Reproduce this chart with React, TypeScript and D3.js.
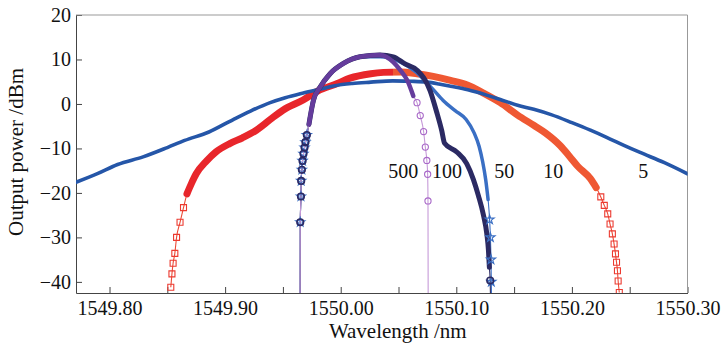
import { useEffect, useRef } from "react";
import * as d3 from "d3";

// Output spectra for several values of the parameter (5, 10, 50, 100, 500).
type Pt = [number, number];

const xMajorTicks = [1549.8, 1549.9, 1550.0, 1550.1, 1550.2, 1550.3];
const xMinorTicks = [1549.85, 1549.95, 1550.05, 1550.15, 1550.25];
const yTicks = [20, 10, 0, -10, -20, -30, -40];

const curve5: Pt[] = [
  [1549.771, -17.6], [1549.79, -15.6], [1549.807, -13.6], [1549.829, -11.9],
  [1549.85, -9.8], [1549.865, -8.2], [1549.886, -6.3], [1549.907, -3.5],
  [1549.922, -1.6], [1549.939, 0.3], [1549.952, 1.4], [1549.965, 2.3],
  [1549.982, 3.3], [1549.995, 4.1], [1550.01, 4.6], [1550.026, 4.9],
  [1550.045, 5.2], [1550.06, 5.1], [1550.075, 4.9], [1550.085, 4.5],
  [1550.095, 4.0], [1550.11, 3.2], [1550.125, 2.1], [1550.138, 1.0],
  [1550.153, -0.3], [1550.167, -1.2], [1550.182, -2.4], [1550.2, -4.2],
  [1550.216, -5.9], [1550.23, -7.5], [1550.245, -9.3], [1550.259, -10.9],
  [1550.28, -13.2], [1550.3, -15.7],
];

const curve10: Pt[] = [
  [1549.853, -41.2], [1549.854, -38.2], [1549.855, -35.8], [1549.8565, -33.6],
  [1549.858, -30.0], [1549.861, -26.6], [1549.864, -23.3], [1549.867, -20.2],
  [1549.871, -17.8], [1549.875, -15.7], [1549.884, -12.8], [1549.892, -10.8],
  [1549.904, -8.9], [1549.915, -7.6], [1549.927, -5.9], [1549.939, -3.5],
  [1549.95, -1.4], [1549.9675, 0.9], [1549.98, 2.9], [1549.997, 4.6],
  [1550.008, 5.8], [1550.026, 6.8], [1550.037, 7.1], [1550.052, 7.2],
  [1550.066, 6.8], [1550.08, 6.2], [1550.095, 5.3], [1550.11, 4.2],
  [1550.123, 2.5], [1550.138, 0.3], [1550.153, -2.5], [1550.167, -4.8],
  [1550.177, -6.5], [1550.19, -9.4], [1550.198, -11.8], [1550.205, -14.0],
  [1550.216, -16.8], [1550.221, -18.8], [1550.225, -20.9], [1550.228, -22.8],
  [1550.231, -24.7], [1550.233, -27.0], [1550.235, -29.2], [1550.2365, -31.5],
  [1550.2377, -33.7], [1550.2386, -35.6], [1550.2394, -37.5], [1550.24, -39.8],
  [1550.241, -42.4],
];

// rising edge shared by the three narrow spectra
const narrowLeft: Pt[] = [
  [1549.965, -26.6], [1549.9656, -20.8], [1549.9658, -17.3], [1549.9664, -14.8],
  [1549.967, -12.8], [1549.9678, -11.2], [1549.9687, -9.8], [1549.9695, -8.6],
  [1549.9707, -7.0], [1549.9725, -4.6], [1549.9764, 0.8], [1549.9822, 3.8],
  [1549.9908, 6.8], [1550.0023, 9.1], [1550.0167, 10.6],
];

const curve50: Pt[] = [
  [1549.9649, -45], ...narrowLeft,
  [1550.034, 10.6], [1550.05, 9.6], [1550.065, 7.2], [1550.0791, 3.5],
  [1550.0886, 0.8], [1550.099, -1.5], [1550.1085, -3.5], [1550.1154, -6.5],
  [1550.1197, -9.5], [1550.1228, -13.0], [1550.1254, -17.0], [1550.1275, -21.5],
  [1550.1288, -26.0], [1550.1295, -30.0], [1550.13, -35.0], [1550.1303, -40.0],
  [1550.1305, -45],
];

const curve100: Pt[] = [
  [1549.9649, -45], ...narrowLeft,
  [1550.034, 11.0], [1550.0455, 10.6], [1550.0557, 9.0], [1550.066, 7.6],
  [1550.0773, 3.0], [1550.083, -1.8], [1550.0874, -6.0], [1550.0898, -8.8],
  [1550.1004, -10.8], [1550.109, -13.4], [1550.1148, -17.0], [1550.1191, -20.6],
  [1550.1235, -25.0], [1550.1264, -29.2], [1550.1278, -32.9], [1550.1286, -36.7],
  [1550.1293, -39.7], [1550.1297, -45],
];

const curve500: Pt[] = [
  [1549.9648, -50], ...narrowLeft,
  [1550.034, 11.0], [1550.0455, 9.4], [1550.0515, 7.6], [1550.0576, 5.3],
  [1550.0628, 1.8], [1550.066, 0.3], [1550.0688, -2.6], [1550.0717, -6.2],
  [1550.0732, -9.7], [1550.0745, -12.7], [1550.0752, -15.8], [1550.0755, -21.8],
  [1550.0757, -50],
];

const curveLabels = [
  { text: "500", x: 1550.054, y: -16.7 },
  { text: "100", x: 1550.092, y: -16.7 },
  { text: "50", x: 1550.1414, y: -16.7 },
  { text: "10", x: 1550.1838, y: -16.7 },
  { text: "5", x: 1550.2617, y: -16.7 },
];

type Style = {
  key: string;
  data: Pt[];
  band: string;
  thin: string;
  mark: string;
  bandWidth: number;
  bandX?: [number, number];
  marker?: d3.SymbolType;
  markerSize?: number;
};

const FONT = "Liberation Serif, DejaVu Serif, serif";

export default function App() {
  const svgRef = useRef<SVGSVGElement | null>(null);

  useEffect(() => {
    const svg = d3.select(svgRef.current);
    svg.selectAll("*").remove();
    if (!svgRef.current) return;

    const x = d3.scaleLinear().domain([1549.771, 1550.3]).range([76, 687.5]);
    const y = d3.scaleLinear().domain([-42.5, 20]).range([293, 15]);
    const [x0, x1] = x.range();
    const [yb, yt] = y.range();

    const defs = svg.append("defs");
    defs
      .append("clipPath")
      .attr("id", "plot")
      .append("rect")
      .attr("x", x0)
      .attr("y", yt)
      .attr("width", x1 - x0)
      .attr("height", yb - yt);

    // red on the short side, orange on the long side
    const split = (x(1550.045) - x(1549.85)) / (x(1550.25) - x(1549.85));
    const grad = defs
      .append("linearGradient")
      .attr("id", "redgrad")
      .attr("gradientUnits", "userSpaceOnUse")
      .attr("x1", x(1549.85))
      .attr("x2", x(1550.25))
      .attr("y1", 0)
      .attr("y2", 0);
    grad.append("stop").attr("offset", 0).attr("stop-color", "#e8262b");
    grad.append("stop").attr("offset", split).attr("stop-color", "#e8262b");
    grad.append("stop").attr("offset", split).attr("stop-color", "#ef5833");
    grad.append("stop").attr("offset", 1).attr("stop-color", "#ef5833");

    // axes (ticks point inward)
    const bottom = svg
      .append("g")
      .attr("transform", `translate(0,${yb})`)
      .call(
        d3
          .axisBottom(x)
          .tickValues([...xMajorTicks, ...xMinorTicks])
          .tickSize(-6)
          .tickSizeOuter(0)
          .tickPadding(8)
          .tickFormat((v) =>
            xMajorTicks.includes(v as number) ? d3.format(".2f")(v as number) : "",
          ),
      );
    const left = svg
      .append("g")
      .attr("transform", `translate(${x0},0)`)
      .call(d3.axisLeft(y).tickValues(yTicks).tickSize(-6).tickSizeOuter(0).tickPadding(5));
    for (const a of [bottom, left]) {
      a.attr("font-family", null).attr("font-size", null);
      a.select(".domain").attr("stroke", "#444");
      a.selectAll(".tick line").attr("stroke", "#444");
      a.selectAll("text")
        .style("font-family", FONT)
        .style("font-size", "20px")
        .attr("fill", "#111");
    }
    svg
      .append("path")
      .attr("d", `M${x0},${yt}H${x1}V${yb}`)
      .attr("fill", "none")
      .attr("stroke", "#999");

    const g = svg.append("g").attr("clip-path", "url(#plot)");
    const line = d3
      .line<Pt>()
      .x((d) => x(d[0]))
      .y((d) => y(d[1]))
      .curve(d3.curveMonotoneX);

    const styles: Style[] = [
      {
        key: "10", data: curve10, band: "url(#redgrad)", thin: "#ec4a36", mark: "#ec3a30",
        bandWidth: 7, bandX: [1549.865, 1550.223], marker: d3.symbolSquare, markerSize: 36,
      },
      { key: "5", data: curve5, band: "#2556a8", thin: "#2556a8", mark: "#2556a8", bandWidth: 3.6 },
      {
        key: "50", data: curve50, band: "#3a6fc4", thin: "#3a6fc4", mark: "#3a6fc4", bandWidth: 3.5,
        bandX: [1549.972, 1550.1276], marker: d3.symbolStar, markerSize: 26,
      },
      {
        key: "100", data: curve100, band: "#2b2a63", thin: "#2b2a63", mark: "#2b2a63", bandWidth: 5,
        bandX: [1549.971, 1550.1287], marker: d3.symbolCircle, markerSize: 34,
      },
      {
        key: "500", data: curve500, band: "#653c9c", thin: "#c69ad8", mark: "#a868c8", bandWidth: 4.5,
        bandX: [1549.972, 1550.065], marker: d3.symbolCircle, markerSize: 30,
      },
    ];
    const inBand = (s: Style) => (d: Pt) =>
      !s.bandX || (d[0] >= s.bandX[0] && d[0] <= s.bandX[1]);

    for (const s of styles) {
      g.append("path")
        .datum(s.data)
        .attr("fill", "none")
        .attr("stroke", s.thin)
        .attr("stroke-width", 1.1)
        .attr("d", line);
      g.append("path")
        .datum(s.data.filter(inBand(s)))
        .attr("fill", "none")
        .attr("stroke", s.band)
        .attr("stroke-width", s.bandWidth)
        .attr("stroke-linejoin", "round")
        .attr("stroke-linecap", "round")
        .attr("d", line);
    }

    // markers last: purple circles, then blue stars, then navy rings on top
    for (const k of ["10", "500", "50", "100"]) {
      const s = styles.find((t) => t.key === k)!;
      const sym = d3.symbol().type(s.marker!).size(s.markerSize ?? 30);
      const band = inBand(s);
      g.append("g")
        .selectAll("path")
        .data(s.data.filter((d) => !band(d) && d[1] > -44))
        .join("path")
        .attr("transform", (d) => `translate(${x(d[0])},${y(d[1])})`)
        .attr("d", sym)
        .attr("fill", "none")
        .attr("stroke", s.mark)
        .attr("stroke-width", k === "100" ? 1.6 : 1.1);
    }

    const text = (sel: d3.Selection<any, any, any, any>, size: number) =>
      sel
        .attr("text-anchor", "middle")
        .style("font-family", FONT)
        .style("font-size", `${size}px`)
        .attr("fill", "#111");

    svg
      .append("g")
      .selectAll("text")
      .data(curveLabels)
      .join("text")
      .attr("x", (d) => x(d.x))
      .attr("y", (d) => y(d.y))
      .call((sel) => text(sel, 20))
      .text((d) => d.text);

    svg
      .append("text")
      .attr("x", (x0 + x1) / 2 + 16)
      .attr("y", 338)
      .call((sel) => text(sel, 21))
      .text("Wavelength /nm");
    svg
      .append("text")
      .attr("transform", `translate(23,${(yt + yb) / 2 - 2}) rotate(-90)`)
      .call((sel) => text(sel, 21))
      .text("Output power /dBm");
  }, []);

  return (
    <svg
      ref={svgRef}
      width={722}
      height={343}
      style={{ position: "absolute", left: 0, top: 0, background: "#fff" }}
    />
  );
}
